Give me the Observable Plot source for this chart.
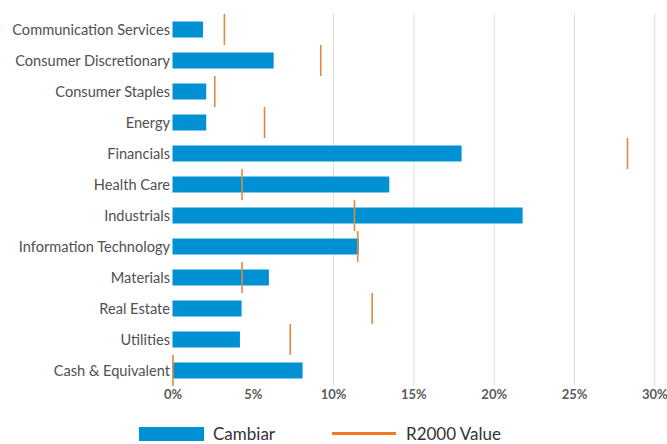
<!DOCTYPE html>
<html>
<head>
<meta charset="utf-8">
<script src="https://cdn.jsdelivr.net/npm/d3@7"></script>
<script src="https://cdn.jsdelivr.net/npm/@observablehq/plot@0.6"></script>
<style>
  html, body { margin: 0; padding: 0; background: #fff; }
  body { width: 667px; height: 444px; overflow: hidden; font-family: Lato, "Liberation Sans", sans-serif; }
  #legend { position: relative; height: 30px; margin-top: 15px; }
  .item { position: absolute; top: 0; display: flex; align-items: center; font-size: 17px; color: #333; line-height: 17px; height: 17px; }
  .sw { width: 65px; height: 14px; margin-right: 9px; }
  .ln { width: 64px; height: 3px; margin-right: 10px; }
</style>
</head>
<body>
<div id="chart"></div>
<div id="legend"></div>
<script>
const sectors = [
  "Communication Services", "Consumer Discretionary", "Consumer Staples", "Energy",
  "Financials", "Health Care", "Industrials", "Information Technology",
  "Materials", "Real Estate", "Utilities", "Cash & Equivalent"
];
const cambiar = [1.9, 6.3, 2.1, 2.1, 18.0, 13.5, 21.8, 11.6, 6.0, 4.3, 4.2, 8.1];
const r2000   = [3.2, 9.2, 2.6, 5.7, 28.3, 4.3, 11.3, 11.5, 4.3, 12.4, 7.3, 0.0];
const xTicks = [0, 5, 10, 15, 20, 25, 30];
const gridTicks = [10, 15, 20, 25, 30];
const seriesNames = ["Cambiar", "R2000 Value"];

const barColor = "#0091d5";
const tickColor = "#e0893f";
const legendLineColor = "#f47a22";

const data = sectors.map((s, i) => ({sector: s, cambiar: cambiar[i], r2000: r2000[i]}));

const chart = Plot.plot({
  width: 667,
  height: 410,
  marginLeft: 172.5,
  marginRight: 12.7,
  marginTop: 13.5,
  marginBottom: 24.5,
  style: {fontFamily: "Lato, 'Liberation Sans', sans-serif", background: "#fff"},
  x: {domain: [0, 30], ticks: xTicks, tickFormat: d => d + "%"},
  y: {domain: sectors, padding: 0, label: null},
  marks: [
    Plot.ruleX(gridTicks, {stroke: "#dcdcdc", strokeWidth: 1}),
    Plot.barX(data, {y: "sector", x: "cambiar", fill: barColor, insetTop: 7.5, insetBottom: 7.5}),
    Plot.tickX(data, {y: "sector", x: "r2000", stroke: tickColor, strokeWidth: 1.6}),
    Plot.axisY({tickSize: 0, tickPadding: 3, fontSize: 14.6, color: "#505050", label: null}),
    Plot.axisX({ticks: xTicks, tickFormat: d => d + "%", tickSize: 0, tickPadding: 4, fontSize: 13, fontWeight: "bold", color: "#5a5a5a", label: null})
  ]
});
document.getElementById("chart").appendChild(chart);

const legend = document.getElementById("legend");
legend.innerHTML = `
  <div class="item" style="left:139px"><div class="sw" style="background:${barColor}"></div>${seriesNames[0]}</div>
  <div class="item" style="left:332px"><div class="ln" style="background:${legendLineColor}"></div>${seriesNames[1]}</div>
`;
</script>
</body>
</html>
